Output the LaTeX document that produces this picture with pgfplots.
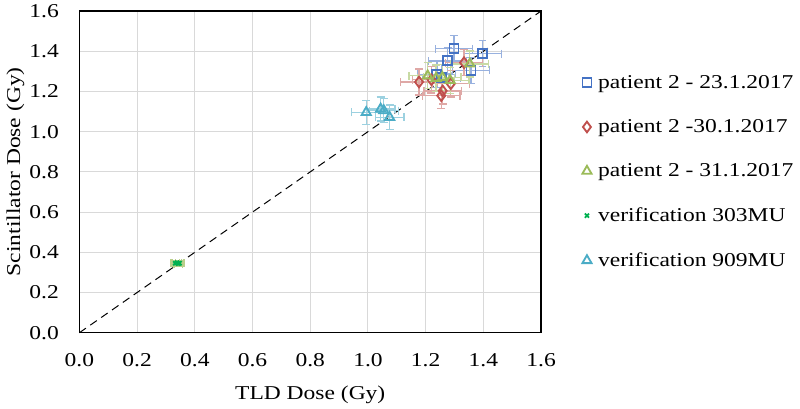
\documentclass[border=0pt]{standalone}
\usepackage{fontspec}
\setmainfont{Liberation Serif}[FakeStretch=1.2]
\usepackage{pgfplots}
\pgfplotsset{compat=1.18}
\usepackage{pgfplotstable}

\definecolor{cBlue}{HTML}{4472C4}
\definecolor{cRed}{HTML}{C0504D}
\definecolor{cGreen}{HTML}{9BBB59}
\definecolor{cVer}{HTML}{00B050}
\definecolor{cCyan}{HTML}{4BACC6}

% x y xerr yerr
\pgfplotstableread{
x y ex ey
1.298 1.412 0.065 0.065
1.397 1.388 0.065 0.065
1.276 1.352 0.065 0.065
1.357 1.305 0.065 0.065
1.239 1.285 0.065 0.065
1.255 1.268 0.065 0.065
}\pA
\pgfplotstableread{
x y ex ey
1.333 1.343 0.065 0.065
1.177 1.247 0.065 0.065
1.287 1.238 0.065 0.065
1.259 1.203 0.065 0.065
1.254 1.179 0.065 0.065
1.220 1.258 0.065 0.065
}\pB
\pgfplotstableread{
x y ex ey
1.353 1.337 0.065 0.065
1.207 1.278 0.065 0.065
1.236 1.266 0.065 0.065
1.258 1.270 0.065 0.065
1.285 1.255 0.065 0.065
}\pC
\pgfplotstableread{
x y ex ey
0.332 0.345 0.015 0.012
0.338 0.348 0.015 0.012
0.343 0.344 0.015 0.012
0.347 0.346 0.015 0.012
}\vA
\pgfplotstableread{
x y ex ey
0.994 1.096 0.050 0.060
1.044 1.113 0.050 0.060
1.055 1.105 0.050 0.060
1.075 1.072 0.050 0.060
}\vB

\begin{document}
\begin{tikzpicture}[font=\fontsize{14.8}{17.5}\selectfont]
\begin{axis}[
  scale only axis,
  width=348.75pt,
  height=243pt,
  xmin=0, xmax=1.6,
  ymin=0, ymax=1.6,
  xtick={0,0.2,...,1.6},
  ytick={0,0.2,...,1.6},
  xticklabel style={yshift=-12pt, /pgf/number format/fixed,/pgf/number format/precision=1,/pgf/number format/fixed zerofill},
  yticklabel style={xshift=-12pt, /pgf/number format/fixed,/pgf/number format/precision=1,/pgf/number format/fixed zerofill},
  /pgf/number format/assume math mode=true,
  major tick length=0pt,
  grid=major,
  major grid style={color=black!15, line width=0.75pt},
  axis line style={black, line width=0.9pt},
  xlabel={TLD Dose (Gy)},
  ylabel={Scintillator Dose (Gy)},
  xlabel style={yshift=-8pt},
  ylabel style={yshift=-3pt},
  legend style={draw=none, fill=none, at={(1,0.5)}, anchor=west,
    xshift=28pt, row sep=18pt, font=\fontsize{14.8}{17.5}\selectfont,
    /tikz/every odd column/.append style={column sep=3pt}},
  legend cell align=left,
  clip=false,
]
\addplot[black, line width=0.75pt, dash pattern=on 6pt off 4pt, forget plot] coordinates {(0,0) (1.6,1.6)};

\addplot[only marks, mark=square, mark size=3.4pt, color=cBlue, line width=1.4pt,
  error bars/.cd, x dir=both, x explicit, y dir=both, y explicit,
  error bar style={color=cBlue!55, line width=1pt},
  error mark options={color=cBlue!55, line width=1pt, mark size=3pt, rotate=90}]
  table[x=x, y=y, x error=ex, y error=ey] {\pA};
\addlegendentry{patient 2 - 23.1.2017}

\addplot[only marks, mark=diamond, mark size=4pt, color=cRed, line width=1.4pt,
  error bars/.cd, x dir=both, x explicit, y dir=both, y explicit,
  error bar style={color=cRed!50, line width=1pt},
  error mark options={color=cRed!50, line width=1pt, mark size=3pt, rotate=90}]
  table[x=x, y=y, x error=ex, y error=ey] {\pB};
\addlegendentry{patient 2 -30.1.2017}

\addplot[only marks, mark=triangle, mark size=4pt, color=cGreen, line width=1.4pt,
  error bars/.cd, x dir=both, x explicit, y dir=both, y explicit,
  error bar style={color=cGreen!55, line width=1pt},
  error mark options={color=cGreen!55, line width=1pt, mark size=3pt, rotate=90}]
  table[x=x, y=y, x error=ex, y error=ey] {\pC};
\addlegendentry{patient 2 - 31.1.2017}

\addplot[only marks, mark=x, mark size=2.2pt, color=cVer, line width=1.4pt,
  error bars/.cd, x dir=both, x explicit, y dir=both, y explicit,
  error bar style={color=cGreen!70, line width=1pt},
  error mark options={color=cGreen!70, line width=1pt, mark size=3pt, rotate=90}]
  table[x=x, y=y, x error=ex, y error=ey] {\vA};
\addlegendentry{verification 303MU}

\addplot[only marks, mark=triangle, mark size=4pt, color=cCyan, line width=1.4pt,
  error bars/.cd, x dir=both, x explicit, y dir=both, y explicit,
  error bar style={color=cCyan!55, line width=1pt},
  error mark options={color=cCyan!55, line width=1pt, mark size=3pt, rotate=90}]
  table[x=x, y=y, x error=ex, y error=ey] {\vB};
\addlegendentry{verification 909MU}
\end{axis}
\path ([xshift=-60pt,yshift=-56.25pt]current axis.south west)
      ([xshift=191.25pt,yshift=6pt]current axis.north east);
\end{tikzpicture}
\end{document}
